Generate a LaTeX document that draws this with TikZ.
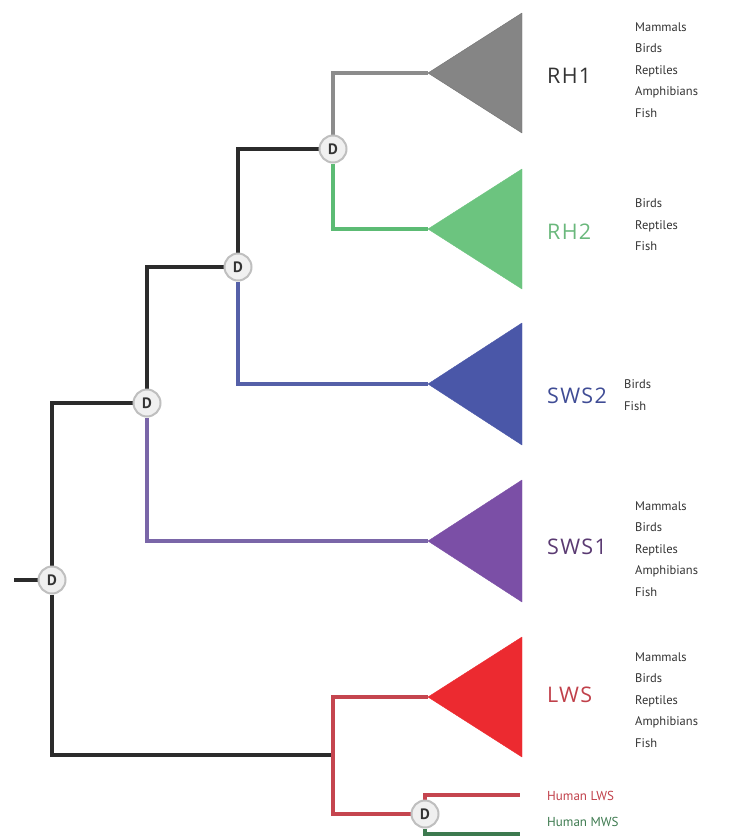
\documentclass[tikz,border=0pt]{standalone}
\usepackage{fontspec}
\setmainfont{PT Sans}
\newfontfamily\cladefont[LetterSpace=6]{Open Sans}
\pgfdeclarelayer{background}
\pgfsetlayers{background,main}
\definecolor{blk}{HTML}{2B2B2B}
\definecolor{rhoneL}{HTML}{8C8C8C}
\definecolor{rhoneT}{HTML}{858585}
\definecolor{rhtwoL}{HTML}{5CBB74}
\definecolor{rhtwoT}{HTML}{6CC47F}
\definecolor{swstwoL}{HTML}{5560A8}
\definecolor{swstwoT}{HTML}{4A57A8}
\definecolor{swsoneL}{HTML}{7A66A8}
\definecolor{swsoneT}{HTML}{7B4FA6}
\definecolor{lwsL}{HTML}{C5454F}
\definecolor{lwsT}{HTML}{EC2A30}
\definecolor{mwsG}{HTML}{3D7A4F}
\definecolor{txt}{HTML}{333333}
\definecolor{rhtwoTxt}{HTML}{6AB87C}
\definecolor{swstwoTxt}{HTML}{3F4C95}
\definecolor{swsoneTxt}{HTML}{5A3A72}
\definecolor{lwsTxt}{HTML}{C0404A}
\tikzset{
  dnode/.style={circle, fill=gray!12, draw=gray!50, line width=2pt, minimum size=27pt, inner sep=0pt, font=\fontsize{15}{15}\selectfont\bfseries, text=txt},
  branch/.style={line width=3.2pt},
  tri/.style={line join=round},
  clade/.style={anchor=west, inner sep=0pt, font=\cladefont\fontsize{21.5}{21.5}\selectfont},
  species/.style={anchor=west, inner sep=0pt, align=left, text=txt, font=\fontsize{12.5}{21.5}\selectfont},
  human/.style={anchor=west, inner sep=0pt, font=\fontsize{13}{13}\selectfont},
}
\begin{document}
\begin{tikzpicture}[x=1pt,y=-1pt]
\useasboundingbox (0,0) rectangle (736,836);
% duplication nodes
\node[dnode] (d0) at (52,580) {D};
\node[dnode] (d1) at (147,403) {D};
\node[dnode] (d2) at (238,267) {D};
\node[dnode] (d3) at (333,149) {D};
\node[dnode] (d4) at (425,814) {D};
% coordinates
\coordinate (rootin) at (14,580);
\coordinate (lwsfork) at (333,755);
\coordinate (rh1) at (428,73);
\coordinate (rh2) at (428,229);
\coordinate (sws2) at (428,384);
\coordinate (sws1) at (428,541);
\coordinate (lws) at (428,697);
\coordinate (hlws) at (520,795);
\coordinate (hmws) at (520,834);
\begin{pgfonlayer}{background}
\draw[branch, blk] (rootin) -- (d0);
\draw[branch, blk] (d0) |- (d1);
\draw[branch, blk] (d0) |- (lwsfork);
\draw[branch, blk] (d1) |- (d2);
\draw[branch, swsoneL] (d1) |- (sws1);
\draw[branch, blk] (d2) |- (d3);
\draw[branch, swstwoL] (d2) |- (sws2);
\draw[branch, rhoneL] (d3) |- (rh1);
\draw[branch, rhtwoL] (d3) |- (rh2);
\draw[branch, lwsL] (lwsfork) |- (lws);
\draw[branch, lwsL] (lwsfork) |- (d4);
\draw[branch, lwsL] (d4) |- (hlws);
\draw[branch, mwsG] (d4) |- (hmws);
\end{pgfonlayer}
% triangles
\filldraw[tri, fill=rhoneT, draw=rhoneT!85!black] (rh1) -- ++(94,-60) -- ++(0,120) -- cycle;
\filldraw[tri, fill=rhtwoT, draw=rhtwoT] (rh2) -- ++(94,-60) -- ++(0,120) -- cycle;
\filldraw[tri, fill=swstwoT, draw=swstwoT] (sws2) -- ++(94,-61) -- ++(0,122) -- cycle;
\filldraw[tri, fill=swsoneT, draw=swsoneT] (sws1) -- ++(94,-61) -- ++(0,122) -- cycle;
\filldraw[tri, fill=lwsT, draw=lwsT] (lws) -- ++(94,-60) -- ++(0,120) -- cycle;
% clade labels
\node[clade, text=txt] (lrh1) at (547,76) {RH1};
\node[clade, text=rhtwoTxt] (lrh2) at (547,232) {RH2};
\node[clade, text=swstwoTxt] (lsws2) at (547,396) {SWS2};
\node[clade, text=swsoneTxt] (lsws1) at (547,547) {SWS1};
\node[clade, text=lwsTxt] (llws) at (547,695) {LWS};
% species lists
\node[species] (srh1) at (635,70) {Mammals\\Birds\\Reptiles\\Amphibians\\Fish};
\node[species] (srh2) at (635,225) {Birds\\Reptiles\\Fish};
\node[species] (ssws2) at (624,395) {Birds\\Fish};
\node[species] (ssws1) at (635,549) {Mammals\\Birds\\Reptiles\\Amphibians\\Fish};
\node[species] (slws) at (635,700) {Mammals\\Birds\\Reptiles\\Amphibians\\Fish};
% human labels
\node[human, text=lwsTxt] (hl) at (547,796) {Human LWS};
\node[human, text=mwsG] (hm) at (547,822) {Human MWS};
\end{tikzpicture}
\end{document}
